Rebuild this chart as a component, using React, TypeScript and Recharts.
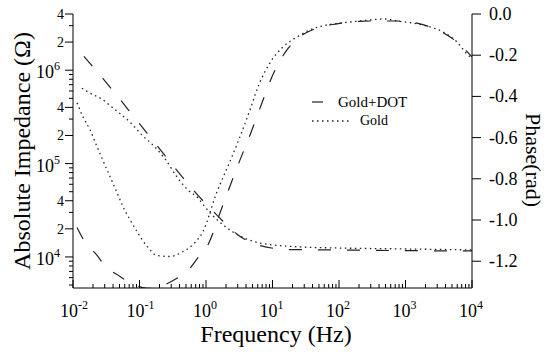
import { LineChart, Line, XAxis, YAxis } from 'recharts';

if (typeof document !== 'undefined') document.body.style.margin = '0';

const SERIF = "'Liberation Serif'";

// Gold+DOT impedance (dashed)
const dotImpFreq = [0.0146, 0.0428, 0.0855, 0.171, 0.342, 0.708, 1.46, 3.03, 6.05, 18.3, 73.3, 826, 10000];
const dotImpOhm = [1.41e6, 5.68e5, 3.07e5, 1.66e5, 8.95e4, 4.83e4, 2.81e4, 1.72e4, 1.34e4, 1.2e4, 1.19e4, 1.17e4, 1.16e4];

// Gold impedance (dotted)
const goldImpFreq = [0.0136, 0.018, 0.0273, 0.0386, 0.0545, 0.0719, 0.109, 0.171, 0.25, 0.366, 0.536, 0.759, 0.966, 2.55, 6.49, 25.9, 81.3, 826, 10000];
const goldImpOhm = [6.41e5, 5.68e5, 4.9e5, 4.02e5, 3.3e5, 2.78e5, 2.02e5, 1.5e5, 1.09e5, 7.18e4, 5.21e4, 4.28e4, 3.43e4, 1.85e4, 1.41e4, 1.28e4, 1.25e4, 1.22e4, 1.19e4];

// Gold+DOT phase (dashed)
const dotPhFreq = [0.0115, 0.0141, 0.018, 0.023, 0.0283, 0.0509, 0.0719, 0.134, 0.203, 0.366, 0.536, 0.759, 1.04, 1.74, 2.92, 4.92, 6.95, 9.82, 16.5, 25.9, 46.7, 93.3, 292, 745, 2336, 5946, 10000];
const dotPhRad = [-1.036, -1.09, -1.133, -1.172, -1.211, -1.274, -1.303, -1.332, -1.322, -1.283, -1.245, -1.182, -1.128, -0.939, -0.746, -0.562, -0.431, -0.305, -0.174, -0.111, -0.068, -0.048, -0.034, -0.034, -0.063, -0.136, -0.208];

// Gold phase (dotted)
const goldPhFreq = [0.0115, 0.0141, 0.018, 0.023, 0.0283, 0.036, 0.0459, 0.0565, 0.0719, 0.0917, 0.13, 0.183, 0.288, 0.451, 0.684, 0.902, 1.41, 2.46, 3.24, 4.59, 6.05, 9.17, 14.4, 23.4, 36.6, 66.1, 104, 146, 292, 459, 745, 1297, 2336, 3664, 5946, 8710, 10000];
const goldPhRad = [-0.431, -0.499, -0.562, -0.644, -0.712, -0.789, -0.867, -0.935, -0.998, -1.056, -1.128, -1.172, -1.177, -1.153, -1.109, -1.056, -0.877, -0.692, -0.596, -0.465, -0.354, -0.237, -0.16, -0.111, -0.077, -0.053, -0.044, -0.039, -0.029, -0.024, -0.034, -0.044, -0.063, -0.087, -0.136, -0.199, -0.213];

// axis ticks
const xDecades = [0.01, 0.1, 1, 10, 100, 1000];
const xLast = 10000;
const minorSteps = [1, 2, 3, 4, 5, 6, 7, 8, 9];
const impDecades = [1e3, 1e4, 1e5, 1e6];
const impLabelled = [1, 2, 4];
const phaseTicks = [-1.2, -1.0, -0.8, -0.6, -0.4, -0.2, 0];

const impDomain = [4650, 4e6];
const phaseDomain = [-1.33, 0];

const xTicks = [...xDecades.flatMap((d) => minorSteps.map((m) => m * d)), xLast];
const impTicks = impDecades
  .flatMap((d) => minorSteps.map((m) => m * d))
  .filter((v) => v >= impDomain[0] && v <= impDomain[1]);

const pts = (f: number[], v: number[]) => f.map((x, i) => ({ f: x, v: v[i] }));

const isDecade = (v: number) => {
  const l = Math.log10(v);
  return Math.abs(l - Math.round(l)) < 1e-6;
};

const XTick = (p: any) => {
  const { x, y, payload } = p;
  const v = payload.value;
  const major = isDecade(v);
  const e = Math.round(Math.log10(v));
  return (
    <g>
      <line x1={x} x2={x} y1={y} y2={y - (major ? 8 : 4)} stroke="#000" />
      {major && (
        <text x={x - 13} y={y + 29} fontSize={18} style={{ fontFamily: SERIF }} fill="#000">
          10
          <tspan dy={-8} fontSize={12}>
            {e}
          </tspan>
        </text>
      )}
    </g>
  );
};

const LeftTick = (p: any) => {
  const { x, y, payload } = p;
  const v = payload.value;
  const e = Math.floor(Math.log10(v) + 1e-9);
  const m = Math.round(v / Math.pow(10, e));
  const labelled = impLabelled.includes(m);
  return (
    <g>
      <line x1={x} x2={x - (labelled ? 8 : 4)} y1={y} y2={y} stroke="#000" />
      {m === 1 && (
        <text x={x - 13} y={y + 8} textAnchor="end" fontSize={18} style={{ fontFamily: SERIF }} fill="#000">
          10
          <tspan dy={-8} fontSize={12}>
            {e}
          </tspan>
        </text>
      )}
      {labelled && m !== 1 && (
        <text x={x - 9} y={y + 5} textAnchor="end" fontSize={14} style={{ fontFamily: SERIF }} fill="#000">
          {m}
        </text>
      )}
    </g>
  );
};

const RightTick = (p: any) => {
  const { x, y, payload } = p;
  const v = payload.value as number;
  return (
    <g>
      <line x1={x} x2={x + 9} y1={y} y2={y} stroke="#000" />
      <text x={x + 17} y={y + 6} fontSize={18} style={{ fontFamily: SERIF }} fill="#000">
        {v === 0 ? '0.0' : v.toFixed(1)}
      </text>
    </g>
  );
};

const DASH = '13 16';
const DOTS = '1.5 3.5';
const INK = '#222';

const App = () => {
  return (
    <div style={{ position: 'relative', width: 550, height: 358, background: '#fff' }}>
      <LineChart width={550} height={358} margin={{ top: 14, right: 0, bottom: 0, left: 0 }}>
        <XAxis
          dataKey="f"
          type="number"
          scale="log"
          domain={[0.01, 10000]}
          allowDataOverflow
          ticks={xTicks}
          interval={0}
          tickLine={false}
          tickSize={0}
          tickMargin={0}
          height={70}
          axisLine={{ stroke: '#000' }}
          tick={(p: any) => <XTick {...p} />}
        />
        <YAxis
          yAxisId="imp"
          orientation="left"
          type="number"
          scale="log"
          domain={impDomain}
          allowDataOverflow
          ticks={impTicks}
          interval={0}
          width={73}
          tickLine={false}
          tickSize={0}
          tickMargin={0}
          axisLine={{ stroke: '#000' }}
          tick={(p: any) => <LeftTick {...p} />}
        />
        <YAxis
          yAxisId="ph"
          orientation="right"
          type="number"
          domain={phaseDomain}
          allowDataOverflow
          ticks={phaseTicks}
          interval={0}
          width={78}
          tickLine={false}
          tickSize={0}
          tickMargin={0}
          axisLine={{ stroke: '#000' }}
          tick={(p: any) => <RightTick {...p} />}
        />
        <Line
          yAxisId="imp"
          data={pts(dotImpFreq, dotImpOhm)}
          dataKey="v"
          type="monotone"
          stroke={INK}
          strokeWidth={1.2}
          strokeDasharray={DASH}
          dot={false}
          isAnimationActive={false}
        />
        <Line
          yAxisId="imp"
          data={pts(goldImpFreq, goldImpOhm)}
          dataKey="v"
          type="monotone"
          stroke={INK}
          strokeWidth={1.3}
          strokeDasharray={DOTS}
          dot={false}
          isAnimationActive={false}
        />
        <Line
          yAxisId="ph"
          data={pts(dotPhFreq, dotPhRad)}
          dataKey="v"
          type="monotone"
          stroke={INK}
          strokeWidth={1.2}
          strokeDasharray={DASH}
          dot={false}
          isAnimationActive={false}
        />
        <Line
          yAxisId="ph"
          data={pts(goldPhFreq, goldPhRad)}
          dataKey="v"
          type="monotone"
          stroke={INK}
          strokeWidth={1.3}
          strokeDasharray={DOTS}
          dot={false}
          isAnimationActive={false}
        />
      </LineChart>
      <svg
        width={550}
        height={358}
        style={{ position: 'absolute', left: 0, top: 0, pointerEvents: 'none', fontFamily: SERIF }}
      >
        <text x={30} y={151} transform="rotate(-90 30 151)" textAnchor="middle" fontSize={24} fill="#000">
          Absolute Impedance (Ω)
        </text>
        <text x={276} y={342} textAnchor="middle" fontSize={24} fill="#000">
          Frequency (Hz)
        </text>
        <text x={526} y={160} transform="rotate(90 526 160)" textAnchor="middle" fontSize={22} fill="#000">
          Phase(rad)
        </text>
        <line x1={312} x2={323} y1={102} y2={102} stroke={INK} strokeWidth={1.2} />
        <text x={338} y={107} fontSize={15} fill="#000">
          Gold+DOT
        </text>
        <line x1={312} x2={349} y1={121} y2={121} stroke={INK} strokeWidth={1.3} strokeDasharray={DOTS} />
        <text x={360} y={125} fontSize={14} fill="#000">
          Gold
        </text>
      </svg>
    </div>
  );
};

export default App;
